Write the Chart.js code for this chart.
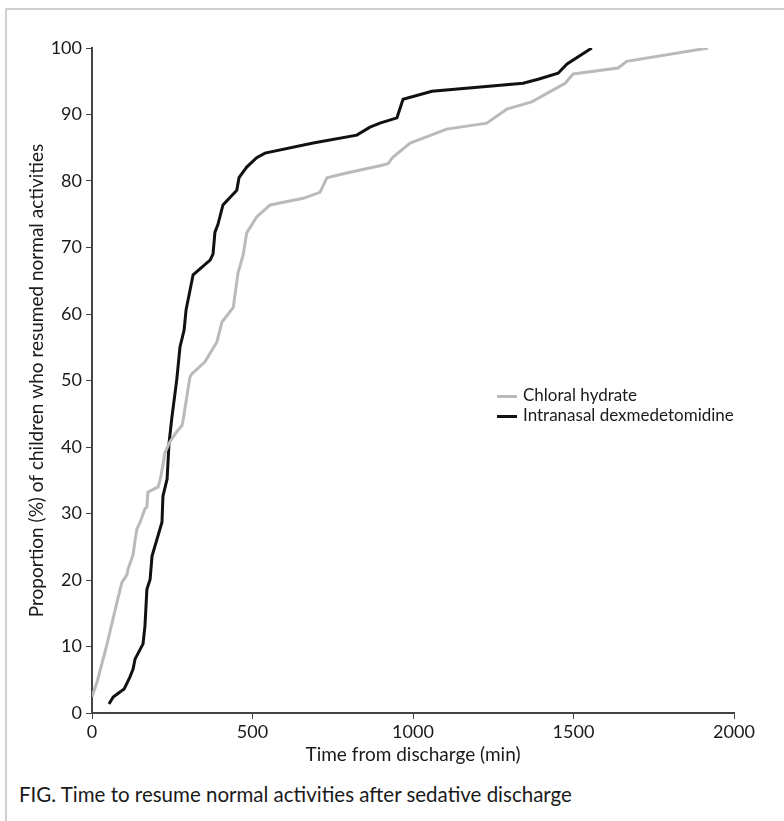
<!DOCTYPE html>
<html>
<head>
<meta charset="utf-8">
<script src="https://cdn.jsdelivr.net/npm/chart.js@4.4.1/dist/chart.umd.min.js"></script>
<style>
    body { margin: 0; background: #fff; font-family: Lato, "Open Sans", sans-serif; }
    #frame { position: absolute; left: 5px; top: 8px; width: 790px; height: 830px;
             border-top: 2px solid #cfcfcf; border-left: 2px solid #cfcfcf; }
    #wrap { position: absolute; left: 0; top: 0; width: 784px; height: 766px; }
    #legend { position: absolute; left: 497px; top: 385px; font-size: 17px; color: #1a1a1a; }
    #legend div { height: 20px; line-height: 20px; white-space: nowrap; }
    #legend span { display: inline-block; width: 20px; height: 3px; vertical-align: middle; margin-right: 6px; }
    #caption { position: absolute; left: 19px; top: 782px; font-size: 20.5px; color: #1a1a1a; }
</style>
</head>
<body>
<div id="frame"></div>
<div id="wrap"><canvas id="lineChart"></canvas></div>
<div id="legend">
    <div><span style="background:#bababa"></span>Chloral hydrate</div>
    <div><span style="background:#111"></span>Intranasal dexmedetomidine</div>
</div>
<div id="caption">FIG. Time to resume normal activities after sedative discharge</div>
<script>
// values (minutes, %)
const chloralTime = [0, 16, 45, 78, 93, 109, 112, 128, 134, 140, 150, 165, 171, 174, 206, 212, 221, 227, 243, 264, 280, 283, 305, 311, 352, 389, 399, 405, 440, 455, 471, 482, 513, 555, 658, 710, 732, 793, 897, 922, 938, 991, 1105, 1230, 1292, 1370, 1474, 1499, 1639, 1666, 1919];
const chloralPct = [2.4, 4.7, 10, 16.7, 19.6, 20.8, 21.6, 23.8, 25.9, 27.7, 28.7, 30.7, 31, 33.2, 34.0, 35.0, 37.3, 39.1, 40.8, 42.3, 43.2, 43.8, 50.5, 51.0, 52.8, 55.8, 57.7, 58.8, 61.0, 66.2, 68.9, 72.2, 74.6, 76.4, 77.4, 78.3, 80.5, 81.2, 82.3, 82.6, 83.6, 85.7, 87.8, 88.7, 90.8, 91.9, 94.7, 96.1, 97.0, 98.0, 100];

const dexTime = [53, 66, 100, 118, 128, 134, 159, 165, 171, 181, 187, 218, 221, 234, 240, 249, 264, 274, 287, 293, 315, 368, 377, 383, 392, 408, 451, 458, 482, 513, 539, 689, 825, 866, 897, 950, 969, 1059, 1343, 1390, 1452, 1480, 1557];
const dexPct = [1.35, 2.4, 3.6, 5.4, 6.6, 8.1, 10.4, 13.1, 18.6, 20.1, 23.6, 28.7, 32.6, 35.2, 40.6, 44.5, 50.1, 55.0, 57.6, 60.6, 65.9, 68.1, 69.0, 72.3, 73.4, 76.4, 78.6, 80.5, 82.1, 83.5, 84.2, 85.7, 86.9, 88.1, 88.7, 89.5, 92.3, 93.5, 94.7, 95.3, 96.2, 97.6, 100];

const xTicks = [0, 500, 1000, 1500, 2000];
const yTicks = [0, 10, 20, 30, 40, 50, 60, 70, 80, 90, 100];

function toPoints(xs, ys) {
    return xs.map((x, i) => ({x: x, y: ys[i]}));
}

const axisColor = '#444';
const font = {family: 'Lato, "Open Sans", sans-serif', size: 18};
const titleFont = {family: 'Lato, "Open Sans", sans-serif', size: 19};

new Chart(document.getElementById("lineChart").getContext("2d"), {
    type: 'line',
    data: {
        datasets: [{
                label: "Chloral hydrate",
                data: toPoints(chloralTime, chloralPct),
                borderColor: '#bababa',
                borderWidth: 3
            }, {
                label: "Intranasal dexmedetomidine",
                data: toPoints(dexTime, dexPct),
                borderColor: '#111',
                borderWidth: 3
            }]
    },
    options: {
        responsive: true,
        maintainAspectRatio: false,
        animation: false,
        layout: {padding: {top: 48, right: 50, left: 0, bottom: 0}},
        elements: {line: {tension: 0}, point: {radius: 0}},
        plugins: {legend: {display: false}, tooltip: {enabled: false}},
        scales: {
            x: {
                type: 'linear',
                min: 0,
                max: 2000,
                afterBuildTicks: s => { s.ticks = xTicks.map(v => ({value: v})); },
                afterFit: s => { s.height = 53; },
                border: {color: axisColor, width: 2},
                grid: {drawOnChartArea: false, color: axisColor, tickLength: 6},
                ticks: {color: '#1a1a1a', font: font, padding: 2, maxRotation: 0, callback: v => String(v)},
                title: {display: true, text: 'Time from discharge (min)', color: '#1a1a1a',
                    font: titleFont, padding: {top: 2, bottom: 0}}
            },
            y: {
                min: 0,
                max: 100,
                afterBuildTicks: s => { s.ticks = yTicks.map(v => ({value: v})); },
                afterFit: s => { s.width = 92; },
                border: {color: axisColor, width: 2},
                grid: {drawOnChartArea: false, color: axisColor, tickLength: 6},
                ticks: {color: '#1a1a1a', font: font, padding: 4},
                title: {display: true, text: 'Proportion (%) of children who resumed normal activities',
                    color: '#1a1a1a', font: titleFont, padding: {top: 25, bottom: 0}}
            }
        }
    }
});
</script>
</body>
</html>
